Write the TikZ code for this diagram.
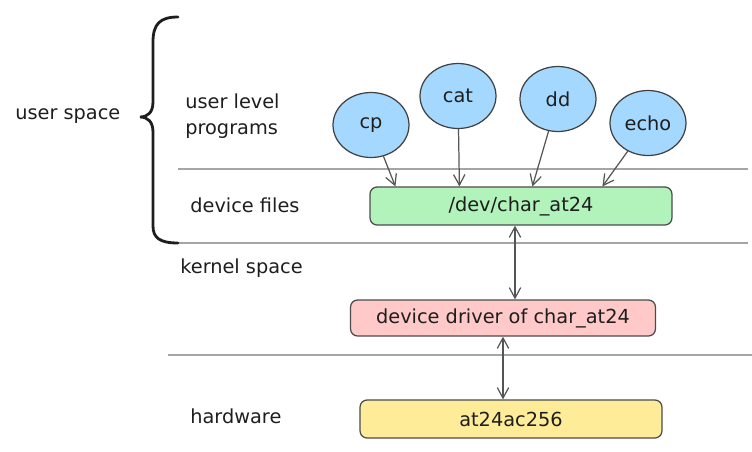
\documentclass[tikz,border=0pt]{standalone}
\usepackage{fontspec}
\setmainfont{DejaVu Sans}
\usepackage{tikz}
\usetikzlibrary{positioning}
\usetikzlibrary{arrows.meta}
\usetikzlibrary{shapes.geometric,calc}
\definecolor{progblue}{HTML}{A5D8FF}
\definecolor{filegreen}{HTML}{B2F2BB}
\definecolor{drvred}{HTML}{FFC9C9}
\definecolor{hwyellow}{HTML}{FFEC99}
\definecolor{ink}{HTML}{1E1E1E}
\definecolor{layergray}{RGB}{165,165,165}
\definecolor{arrowgray}{RGB}{85,85,85}

\begin{document}
\begin{tikzpicture}[x=0.02cm, y=-0.02cm, font=\fontsize{11}{14.5}\selectfont,
    layerline/.style={draw=layergray, line width=1.2pt},
    lbl/.style={anchor=west, text=ink, inner sep=0pt},
    box/.style={rectangle, rounded corners=4pt, draw=ink!80, line width=0.7pt,
                minimum width=6.04cm, minimum height=0.76cm, text=ink}]
	\useasboundingbox (0,0) rectangle (752,451);

	% layer separators
	\draw[layerline] (178,169) -- (748,169);
	\draw[layerline] (168,243) -- (748,243);
	\draw[layerline] (168,355) -- (752,355);

	% user space brace
	\draw[ink, line width=1.6pt, line cap=round]
	    (178,17) .. controls (160,17) and (153,24) .. (153,42) -- (153,102)
	    .. controls (153,112) and (148,117) .. (140,117)
	    .. controls (148,117) and (153,122) .. (153,132) -- (153,226)
	    .. controls (153,238) and (160,243) .. (178,243);

	% layer labels
	\node[lbl] (usersp) at (15,116) {user space};
	\node[lbl, align=left] (userlvl) at (185,116) {user level\\programs};
	\node[lbl] (devlbl) at (190,205) {device files};
	\node[lbl] (kernlbl) at (180,268) {kernel space};
	\node[lbl] (hwlbl) at (190,416) {hardware};

	% user level programs
	\begin{scope}[every node/.style={ellipse, fill=progblue, draw=ink!85, line width=0.7pt,
	              minimum width=1.52cm, minimum height=1.3cm, inner sep=0pt, text=ink}]
	    \node (cp) at (371,125) {cp};
	    \node (cat) at (458,96) {cat};
	    \node (dd) at (558,99) {dd};
	    \node (echo) at (648,123) {echo};
	\end{scope}

	% files, driver, hardware
	\node[box, fill=filegreen] (devfile) at (521,206) {/dev/char\_at24};
	\node[box, fill=drvred, minimum width=6.1cm, minimum height=0.72cm] (driver) at (503,318) {device driver of char\_at24};
	\node[box, fill=hwyellow] (chip) at (511,419) {at24ac256};

	\begin{scope}[>={Straight Barb[length=6pt,width=6.5pt]},
	              every path/.style={draw=arrowgray, line width=0.7pt}]
	    \draw[->] (cp) -- ($(devfile.north west)+(26,0)$);
	    \draw[->] (cat) -- ($(devfile.north west)+(90,0)$);
	    \draw[->] (dd) -- ($(devfile.north west)+(163,0)$);
	    \draw[->] (echo) -- ($(devfile.north west)+(233,0)$);
	    \draw[<->] ($(devfile.south)+(-6,0)$) -- ($(driver.north)+(12,0)$);
	    \draw[<->] ($(driver.south)+(0,0)$) -- ($(chip.north)+(-8,0)$);
	\end{scope}
\end{tikzpicture}
\end{document}
